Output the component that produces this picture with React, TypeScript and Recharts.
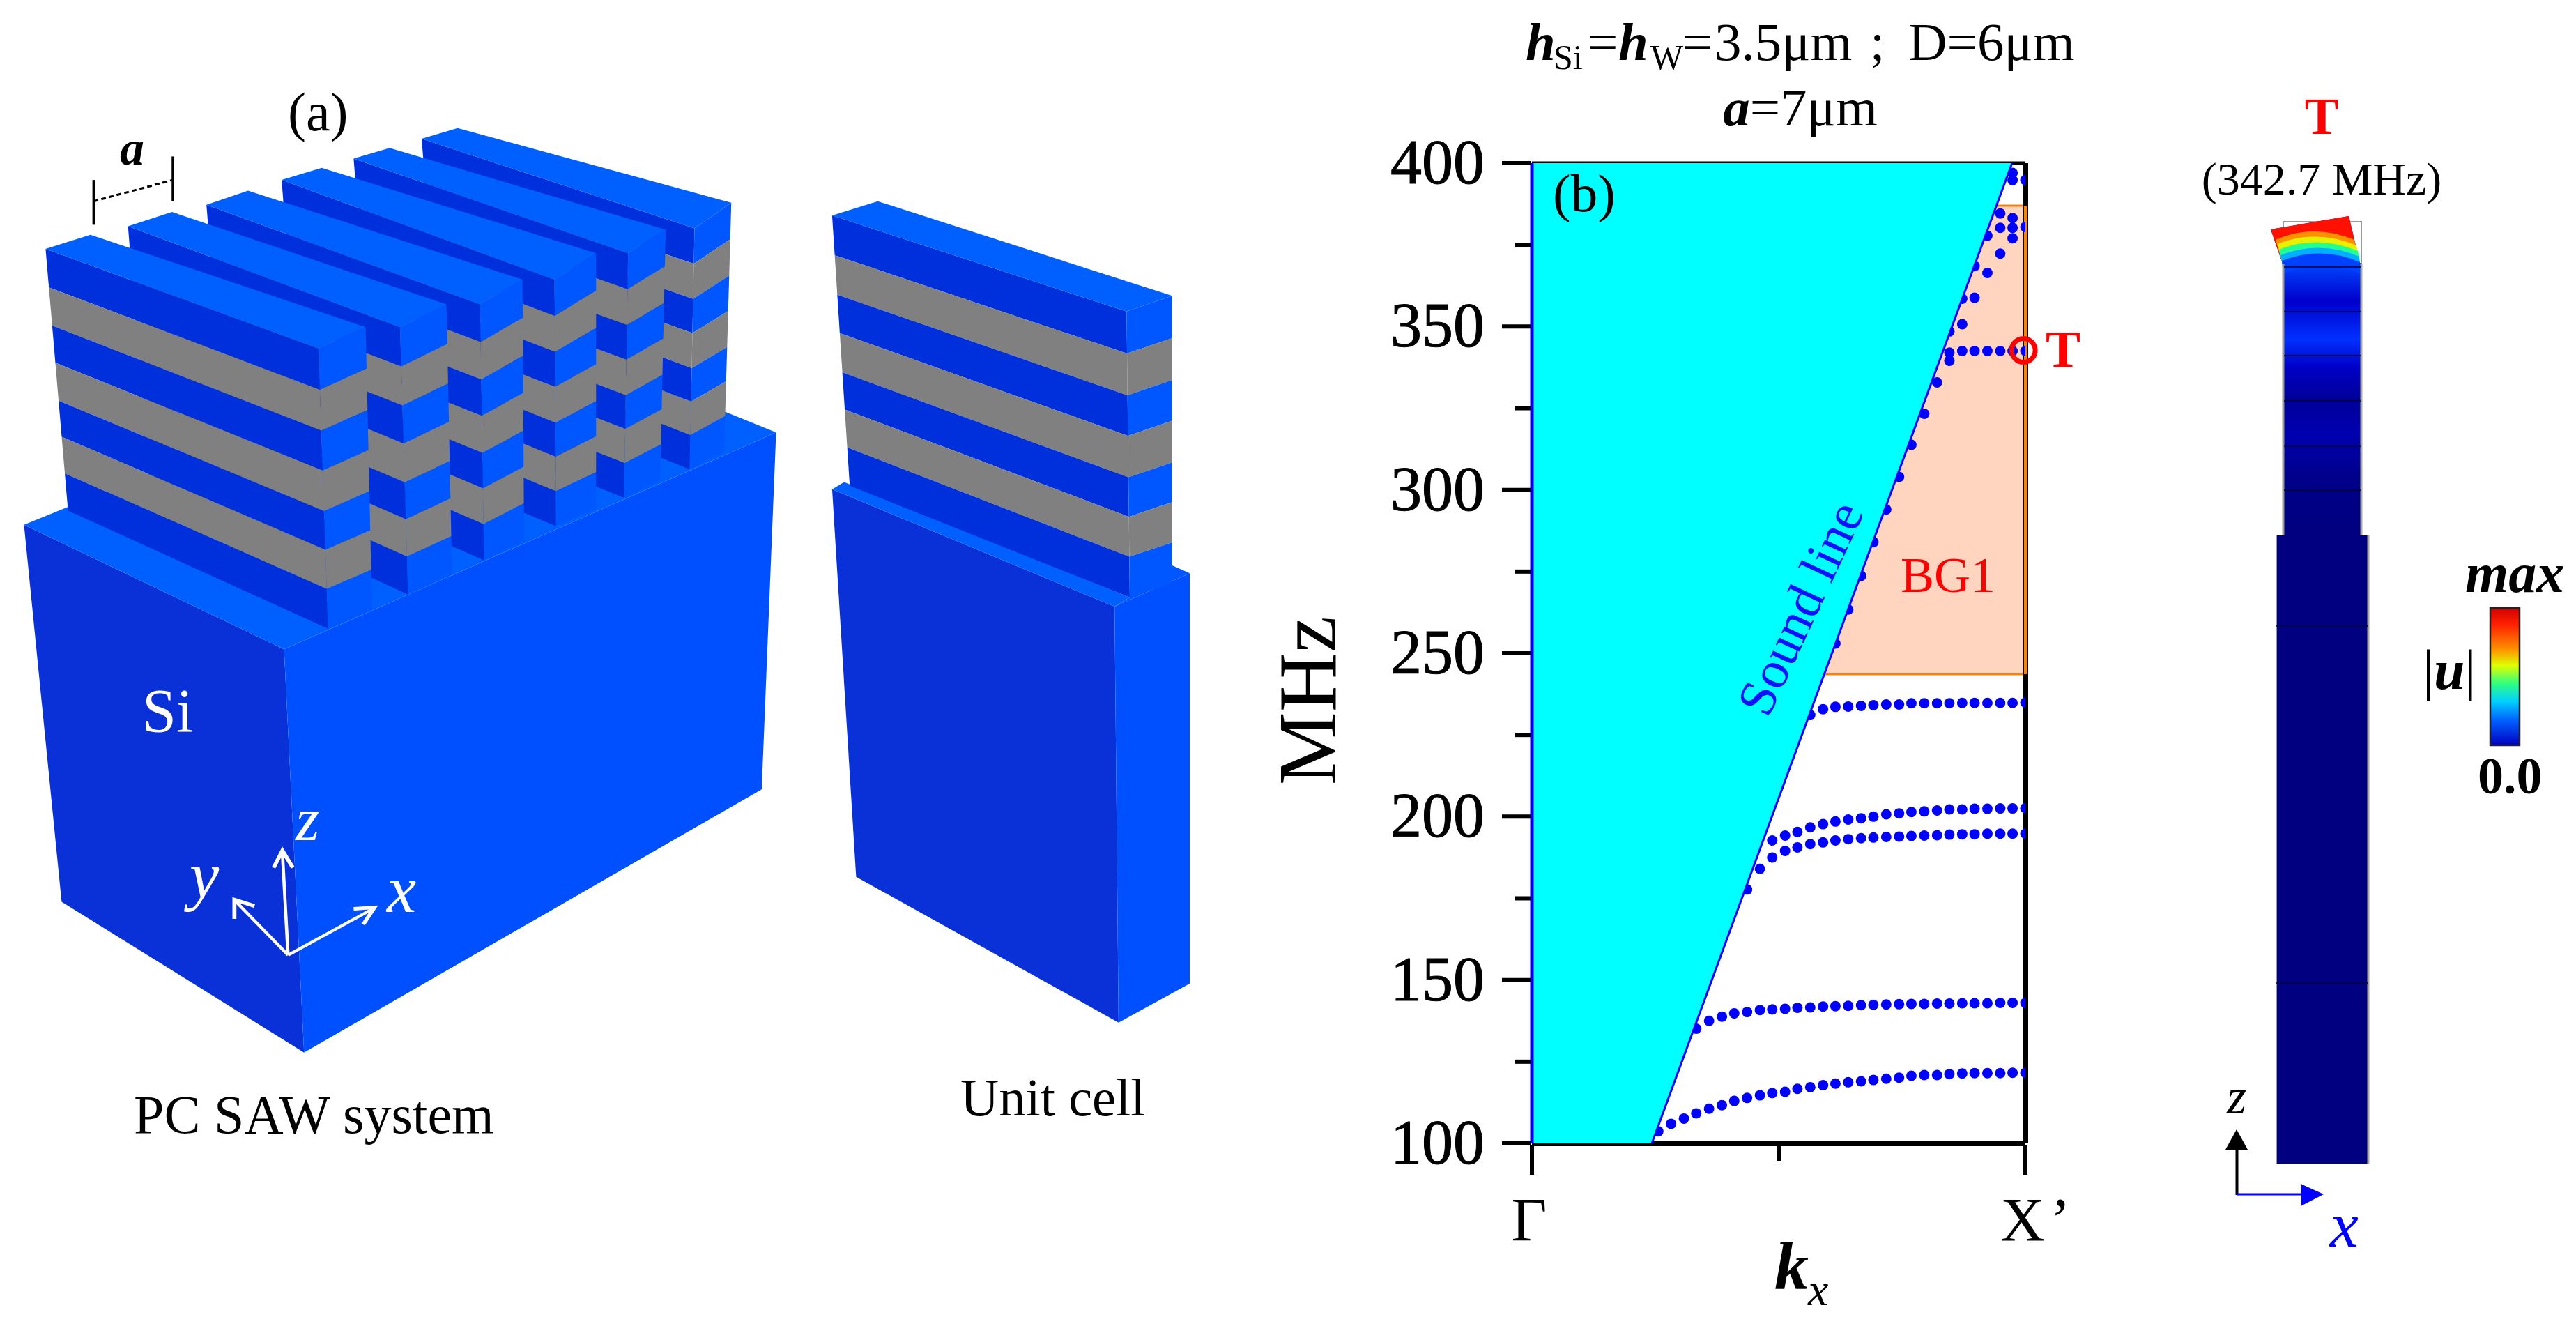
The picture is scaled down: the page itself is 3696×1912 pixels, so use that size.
import { ComposedChart, Area, Line, Scatter, XAxis, YAxis, ReferenceLine, ReferenceDot } from 'recharts'

// reduced wave vector along Gamma-X', shared by all the flat bands
const kRow = [0.256, 0.282, 0.308, 0.333, 0.359, 0.385, 0.41, 0.436, 0.462, 0.487, 0.513, 0.538, 0.564, 0.59, 0.615, 0.641, 0.667, 0.692, 0.718, 0.744, 0.769, 0.795, 0.821, 0.846, 0.872, 0.897, 0.923, 0.949, 0.974, 1]

const band1 = [103.7, 106, 107.6, 109.2, 110.6, 111.7, 113, 113.9, 114.7, 115.4, 115.8, 116.7, 117.2, 117.8, 118.3, 118.7, 119, 119.4, 119.8, 120.1, 120.7, 120.9, 120.9, 121.2, 121.4, 121.5, 121.5, 121.5, 121.6, 121.6]
const band2 = [135.1, 137.5, 138.8, 139.8, 140.2, 140.8, 141, 141.2, 141.5, 141.6, 141.9, 142, 142.1, 142.3, 142.4, 142.5, 142.6, 142.7, 142.7, 142.8, 142.8, 142.9, 142.9, 142.9, 143, 143, 143]
const band3 = [192.7, 194.2, 195.3, 196.7, 197.7, 198.5, 199.1, 199.5, 200, 200.7, 201, 201.4, 201.6, 201.9, 202.2, 202.2, 202.4, 202.4, 202.5, 202.5, 202.6]
const band4 = [177.7, 184, 187.5, 189.5, 190.6, 191.6, 192.1, 192.7, 193.1, 193.4, 193.6, 193.8, 193.9, 194.1, 194.2, 194.3, 194.5, 194.6, 194.6, 194.8, 194.8, 194.8, 194.8]
const band5 = [231.1, 232.9, 233.6, 233.7, 233.9, 234.1, 234.3, 234.3, 234.7, 234.7, 234.7, 234.7, 234.8, 234.8, 234.8, 234.8, 234.8, 234.9]
const band6 = [342, 342.5, 342.5, 342.5, 342.5, 342.5, 342.5]

// points that run along the sound line and the scattered ones near X'
const edgeK = [0.615, 0.641, 0.667, 0.692, 0.718, 0.744, 0.769, 0.795, 0.821, 0.846, 0.846, 0.872, 0.872, 0.897, 0.897, 0.923, 0.923, 0.949, 0.949, 0.949, 0.974, 0.974, 0.974, 0.974, 1, 0.974, 1]
const edgeF = [253, 263.4, 273.7, 284, 294, 304, 313.8, 323.3, 332.9, 339.5, 348.5, 350.7, 358.5, 358.8, 368.5, 366.4, 377.8, 372.3, 380.2, 384.6, 377, 380.2, 383.2, 394.8, 380.5, 397, 394.8]

const soundK = [0.243, 0.973]
const soundF = [100, 400]
const gapLow = 243.6
const gapHigh = 387
const modeT = { k: 0.996, f: 342.7 }

const yTicks = [100, 125, 150, 175, 200, 225, 250, 275, 300, 325, 350, 375, 400]
const xTicks = [0, 0.5, 1]

const SERIF = '"Liberation Serif", serif'
const BLUE = '#0000ff'

const zipBand = (f: number[]) => f.map((v, i) => ({ k: kRow[kRow.length - f.length + i], f: v }))
const dispersion = [band1, band2, band3, band4, band5, band6].map(zipBand)
const edgePoints = edgeK.map((k, i) => ({ k, f: edgeF[i] }))

const cyanArea = [
  { k: 0, range: [100, 400] },
  { k: soundK[0], range: [soundF[0], 400] },
  { k: soundK[1], range: [soundF[1], 400] },
]
const soundLine = soundK.map((k, i) => ({ k, f: soundF[i] }))
const gapArea = [
  { k: 0.592, range: [gapLow, gapLow] },
  { k: 0.94, range: [gapLow, gapHigh] },
  { k: 1, range: [gapLow, gapHigh] },
]

const LeftTick = ({ x, y, payload }: any) => {
  const major = payload.value % 50 === 0
  return (
    <g>
      <line x1={x - (major ? 41 : 22)} x2={x} y1={y} y2={y} stroke="#000" strokeWidth={6} />
      {major && <text x={x - 66} y={y + 29} textAnchor="end" fontFamily={SERIF} fontSize={90} fill="#000" stroke="#000" strokeWidth={1}>{payload.value}</text>}
    </g>
  )
}
const RightTick = ({ x, y, payload }: any) => (
  <line x1={x} x2={x - (payload.value % 50 === 0 ? 42 : 21)} y1={y} y2={y} stroke="#000" strokeWidth={6} />
)
const BottomTick = ({ x, y, payload }: any) => (
  <g>
    <line x1={x} x2={x} y1={y} y2={y + (payload.value === 0.5 ? 23 : 43)} stroke="#000" strokeWidth={6} />
    {payload.value === 0 && <text x={x - 4} y={y + 137} textAnchor="middle" fontFamily={SERIF} fontSize={88} fill="#000">Γ</text>}
    {payload.value === 1 && <text x={x - 36} y={y + 137} fontFamily={SERIF} fontSize={88} fill="#000">X<tspan dx={8}>’</tspan></text>}
  </g>
)

// ---- illustrations, not data ----
const layerT = [0, 0.147, 0.293, 0.435, 0.58, 0.718, 0.858, 1]
type P = [number, number]
const mix = (a: P, b: P, t: number): P => [a[0] + (b[0] - a[0]) * t, a[1] + (b[1] - a[1]) * t]
const pts = (list: P[]) => list.map((p) => p.join(',')).join(' ')

function Fin({ a, b, c, d, a2, b2, c2 }: { a: P; b: P; c: P; d: P; a2: P; b2: P; c2: P }) {
  const faces = []
  for (let i = 0; i < 7; i++) {
    const grey = i % 2 === 1
    const t0 = layerT[i]
    const t1 = layerT[i + 1]
    faces.push(
      <polygon key={`l${i}`} points={pts([mix(a, a2, t0), mix(b, b2, t0), mix(b, b2, t1), mix(a, a2, t1)])} fill={grey ? '#808080' : '#0030dc'} />,
      <polygon key={`r${i}`} points={pts([mix(b, b2, t0), mix(c, c2, t0), mix(c, c2, t1), mix(b, b2, t1)])} fill={grey ? '#808080' : '#0056ff'} />,
    )
  }
  return (
    <g>
      {faces}
      <polygon points={pts([a, d, c, b])} fill="#0060ff" />
    </g>
  )
}

const fins: { a: P; b: P; c: P; d: P; a2: P; b2: P; c2: P }[] = [
  { a: [527, 97], d: [572, 82], c: [914, 187], b: [868, 223], a2: [550, 420], b2: [862, 562], c2: [905, 537] },
  { a: [442, 125], d: [487, 110], c: [832, 225], b: [785, 258], a2: [465, 460], b2: [780, 602], c2: [825, 577] },
  { a: [352, 155], d: [402, 138], c: [745, 258], b: [693, 295], a2: [375, 490], b2: [695, 642], c2: [745, 617] },
  { a: [258, 190], d: [310, 170], c: [653, 295], b: [600, 330], a2: [283, 530], b2: [605, 690], c2: [655, 662] },
  { a: [160, 220], d: [215, 200], c: [558, 330], b: [500, 362], a2: [185, 570], b2: [510, 738], c2: [565, 710] },
  { a: [57, 252], d: [113, 232], c: [457, 362], b: [398, 392], a2: [85, 620], b2: [410, 786], c2: [465, 760] },
]

function Scene() {
  return (
    <g transform="translate(0 100) scale(1.148 1.02)">
      {/* substrate */}
      <polygon points="30,640 355,815 380,1382 77,1170" fill="#0a30d8" />
      <polygon points="355,815 970,510 952,1012 380,1382" fill="#0050ff" />
      <polygon points="30,640 640,360 970,510 355,815" fill="#0060ff" />
      {fins.map((f, i) => <Fin key={i} {...f} />)}
      {/* unit cell */}
      <polygon points="1040,590 1393,755 1398,1340 1070,1135" fill="#0a30d8" />
      <polygon points="1393,755 1487,708 1487,1285 1398,1340" fill="#0050ff" />
      <polygon points="1040,590 1055,580 1412,742 1393,755" fill="#0060ff" />
      <polygon points="1412,742 1465,697 1487,708 1393,755" fill="#0056ff" />
      <Fin a={[1040, 205]} d={[1097, 185]} c={[1465, 318]} b={[1408, 340]} a2={[1062, 585]} b2={[1412, 742]} c2={[1465, 722]} />
      {/* period marker */}
      <g stroke="#000" strokeWidth={3} fill="none">
        <line x1={117} y1={155} x2={117} y2={218} />
        <line x1={216} y1={122} x2={216} y2={185} />
        <line x1={117} y1={185} x2={216} y2={155} strokeDasharray="6 4" />
      </g>
      {/* axes */}
      <g stroke="#fff" strokeWidth={4} fill="none">
        <line x1={360} y1={1245} x2={353} y2={1102} />
        <line x1={360} y1={1245} x2={466} y2={1180} />
        <line x1={360} y1={1245} x2={295} y2={1170} />
        <polyline points="342,1122 353,1098 366,1122" strokeWidth={5} />
        <polyline points="442,1180 468,1178 454,1202" strokeWidth={5} />
        <polyline points="293,1194 293,1167 318,1176" strokeWidth={5} />
      </g>
    </g>
  )
}

const T = (p: any) => <text fontFamily={SERIF} fill="#000" {...p} />

function LeftText() {
  return (
    <g>
      <T x={413} y={187} fontSize={78}>(a)</T>
      <T x={172} y={236} fontSize={70} fontWeight="bold" fontStyle="italic">a</T>
      <T x={204} y={1049} fontSize={88} fill="#fff">Si</T>
      <T x={424} y={1205} fontSize={88} fill="#fff" fontStyle="italic">z</T>
      <T x={272} y={1288} fontSize={95} fill="#fff" fontStyle="italic">y</T>
      <T x={555} y={1308} fontSize={95} fill="#fff" fontStyle="italic">x</T>
      <T x={192} y={1625} fontSize={78}>PC SAW system</T>
      <T x={1378} y={1600} fontSize={76.5}>Unit cell</T>
    </g>
  )
}

function ChartText() {
  const hi = { fontWeight: 'bold', fontStyle: 'italic' }
  return (
    <g>
      <T y={86} fontSize={77}>
        <tspan x={2189} {...hi}>h</tspan>
        <tspan x={2229} fontSize={50} dy={13}>Si</tspan>
        <tspan x={2278} dy={-13}>=</tspan>
        <tspan x={2322} {...hi}>h</tspan>
        <tspan x={2368} fontSize={50} dy={13}>W</tspan>
        <tspan x={2414} dy={-13}>=</tspan>
        <tspan x={2460}>3.5μm</tspan>
        <tspan x={2683}>;</tspan>
        <tspan x={2738}>D=6μm</tspan>
      </T>
      <T x={2583} y={180} fontSize={77} textAnchor="middle">
        <tspan {...hi}>a</tspan>=7μm
      </T>
      <T x={1916} y={1005} fontSize={118} textAnchor="middle" transform="rotate(-90 1916 1005)">MHz</T>
      <T x={2228} y={303} fontSize={77}>(b)</T>
      <T x={2606} y={883} fontSize={76} fill="#1010ff" textAnchor="middle" transform="rotate(-65 2606 883)">Sound line</T>
      <T x={2727} y={849} fontSize={72} fill="#ff0000">BG1</T>
      <T x={2935} y={526} fontSize={75} fill="#ff0000" fontWeight="bold">T</T>
      <T x={2546} y={1849} fontSize={98} fontWeight="bold" fontStyle="italic">k</T>
      <T x={2594} y={1872} fontSize={66} fontStyle="italic">x</T>
    </g>
  )
}

const finLines = [383, 447, 510, 575, 640, 703]
function ModePanel() {
  return (
    <g>
      <defs>
        <linearGradient id="rainbow" x1="0" y1="0" x2="0" y2="1">
          <stop offset="0" stopColor="#d00000" />
          <stop offset="0.12" stopColor="#ff2000" />
          <stop offset="0.3" stopColor="#ff9000" />
          <stop offset="0.42" stopColor="#e0ff00" />
          <stop offset="0.55" stopColor="#30ff80" />
          <stop offset="0.68" stopColor="#00d0ff" />
          <stop offset="0.82" stopColor="#0060ff" />
          <stop offset="1" stopColor="#0000c0" />
        </linearGradient>
        <linearGradient id="finBody" x1="0" y1="0" x2="0" y2="1">
          <stop offset="0" stopColor="#0048ff" />
          <stop offset="0.14" stopColor="#0000cc" />
          <stop offset="0.28" stopColor="#0030ff" />
          <stop offset="0.38" stopColor="#0000c8" />
          <stop offset="0.5" stopColor="#000098" />
          <stop offset="0.62" stopColor="#0000b0" />
          <stop offset="0.8" stopColor="#000088" />
          <stop offset="1" stopColor="#000080" />
        </linearGradient>
      </defs>
      <T x={3331} y={192} fontSize={73} fill="#ff0000" fontWeight="bold" textAnchor="middle">T</T>
      <T x={3331} y={279} fontSize={66} textAnchor="middle">(342.7 MHz)</T>
      <rect x={3276} y={318} width={112} height={450} fill="none" stroke="#999" strokeWidth={2} />
      <rect x={3277} y={377} width={110} height={391} fill="url(#finBody)" />
      <polygon points="3258,329 3370,310 3386,378 3275,378" fill="#0000e0" />
      <path d="M3258,329 L3370,310 L3386,378 Q3330,352 3275,378 Z" fill="#ff1000" />
      <path d="M3265,344 Q3320,320 3378,344 L3386,378 Q3330,352 3275,378 Z" fill="#ff9000" />
      <path d="M3268,350 Q3322,328 3381,352 L3386,378 Q3330,352 3275,378 Z" fill="#e8f000" />
      <path d="M3270,358 Q3325,336 3383,360 L3386,378 Q3330,352 3275,378 Z" fill="#20ff90" />
      <path d="M3272,366 Q3328,344 3385,368 L3386,378 Q3330,356 3275,378 Z" fill="#00b0ff" />
      <path d="M3274,374 Q3330,352 3386,376 L3386,392 Q3330,372 3276,392 Z" fill="#0040ff" />
      <rect x={3266} y={768} width={132} height={901} fill="#000080" />
      <line x1={3266} x2={3266} y1={768} y2={1669} stroke="#999" strokeWidth={2} />
      <line x1={3398} x2={3398} y1={768} y2={1669} stroke="#aaa" strokeWidth={3} />
      <line x1={3276} x2={3276} y1={378} y2={768} stroke="#999" strokeWidth={3} />
      <line x1={3388} x2={3388} y1={378} y2={768} stroke="#aaa" strokeWidth={3} />
      {finLines.map((y) => <line key={y} x1={3277} x2={3387} y1={y} y2={y} stroke="#000030" strokeWidth={1.5} />)}
      <line x1={3266} x2={3398} y1={898} y2={898} stroke="#000030" strokeWidth={1.5} />
      <line x1={3266} x2={3398} y1={1410} y2={1410} stroke="#000030" strokeWidth={1.5} />
      {/* z / x triad */}
      <line x1={3209.5} x2={3209.5} y1={1714} y2={1649} stroke="#000" strokeWidth={4} />
      <polygon points="3193,1649 3225,1649 3209,1620" fill="#000" />
      <line x1={3209} x2={3302} y1={1713} y2={1713} stroke={BLUE} strokeWidth={3} />
      <polygon points="3301,1698 3301,1730 3334,1713" fill={BLUE} />
      <T x={3195} y={1597} fontSize={72} fontStyle="italic">z</T>
      <T x={3343} y={1788} fontSize={92} fontStyle="italic" fill={BLUE}>x</T>
      {/* colour scale */}
      <T x={3537} y={849} fontSize={80} fontWeight="bold" fontStyle="italic">max</T>
      <T x={3476} y={988} fontSize={80}>|<tspan fontWeight="bold" fontStyle="italic">u</tspan>|</T>
      <rect x={3573} y={872} width={42} height={197} fill="url(#rainbow)" stroke="#222" strokeWidth={2.5} />
      <T x={3555} y={1138} fontSize={74} fontWeight="bold">0.0</T>
    </g>
  )
}

export default function App() {
  return (
    <div style={{ position: 'absolute', left: 0, top: 0, width: 3696, height: 1912, background: '#fff', overflow: 'hidden' }}>
      <svg width={3696} height={1912} style={{ position: 'absolute', left: 0, top: 0 }}>
        <Scene />
        <LeftText />
        <ModePanel />
      </svg>
      <div style={{ position: 'absolute', left: 0, top: 0 }}>
        <ComposedChart width={3696} height={1912} margin={{ top: 234, right: 0, bottom: 0, left: 0 }}>
          <XAxis type="number" dataKey="k" domain={[0, 1]} ticks={xTicks} interval={0} height={272} tickSize={0} tick={<BottomTick />} allowDataOverflow axisLine={{ stroke: '#000', strokeWidth: 8 }} tickLine={false} />
          <YAxis yAxisId="left" type="number" dataKey="f" domain={[100, 400]} ticks={yTicks} interval={0} width={2198} tickSize={0} tick={<LeftTick />} axisLine={{ stroke: '#000', strokeWidth: 4 }} tickLine={false} />
          <YAxis yAxisId="right" orientation="right" type="number" domain={[100, 400]} ticks={yTicks} interval={0} width={790} tickSize={0} tick={<RightTick />} axisLine={{ stroke: '#000', strokeWidth: 8 }} tickLine={false} />
          <ReferenceLine yAxisId="left" y={400} stroke="#000" strokeWidth={5} />
          <Area yAxisId="left" data={gapArea} dataKey="range" stroke="#ff8000" strokeWidth={3} fill="#ffd5c0" fillOpacity={1} isAnimationActive={false} dot={false} activeDot={false} zIndex={100} />
          <ReferenceLine yAxisId="left" segment={[{ x: 1, y: gapLow }, { x: 1, y: gapHigh }]} stroke="#ff8000" strokeWidth={4} zIndex={550} />
          {dispersion.map((points, i) => (
            <Scatter key={i} yAxisId="left" data={points} dataKey="f" fill={BLUE} isAnimationActive={false} shape={(p: any) => <circle cx={p.cx} cy={p.cy} r={7.5} fill={BLUE} />} zIndex={600} />
          ))}
          <Scatter yAxisId="left" data={edgePoints} dataKey="f" fill={BLUE} isAnimationActive={false} shape={(p: any) => <circle cx={p.cx} cy={p.cy} r={7.5} fill={BLUE} />} zIndex={600} />
          <Area yAxisId="left" data={cyanArea} dataKey="range" stroke="none" fill="#00ffff" fillOpacity={1} isAnimationActive={false} dot={false} activeDot={false} zIndex={700} />
          <Line yAxisId="left" data={soundLine} dataKey="f" stroke={BLUE} strokeWidth={3} dot={false} activeDot={false} isAnimationActive={false} zIndex={710} />
          <ReferenceLine yAxisId="left" x={0} stroke={BLUE} strokeWidth={5} zIndex={720} />
          <ReferenceDot yAxisId="left" x={modeT.k} y={modeT.f} r={17} fill="none" stroke="#ff0000" strokeWidth={7} zIndex={800} />
        </ComposedChart>
      </div>
      <svg width={3696} height={1912} style={{ position: 'absolute', left: 0, top: 0, pointerEvents: 'none' }}>
        <ChartText />
      </svg>
    </div>
  )
}
